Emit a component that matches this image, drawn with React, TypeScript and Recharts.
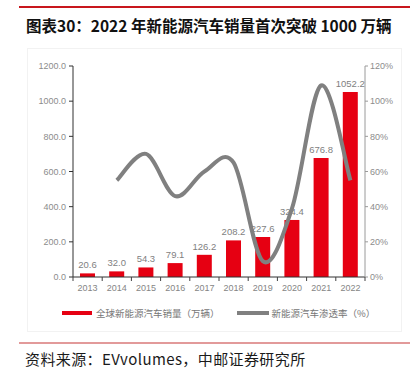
import React from 'react';
import { ComposedChart, Bar, Line, XAxis, YAxis, LabelList } from 'recharts';

const years = ['2013', '2014', '2015', '2016', '2017', '2018', '2019', '2020', '2021', '2022'];
const sales = [20.6, 32.0, 54.3, 79.1, 126.2, 208.2, 227.6, 324.4, 676.8, 1052.2];
const penetration: (number | null)[] = [null, 55, 70, 46, 60, 65, 9, 39, 109, 55];
const leftTicks = [0, 200, 400, 600, 800, 1000, 1200];
const rightTicks = [0, 20, 40, 60, 80, 100, 120];

const data = years.map((y, i) => ({ year: y, sales: sales[i], rate: penetration[i] }));

const W = 410;
const H = 371;
const PLOT_LEFT = 73;
const PLOT_RIGHT = 365;
const BAND = (PLOT_RIGHT - PLOT_LEFT) / years.length;

const FONT = '"Liberation Sans", Arial, "Noto Sans CJK SC", sans-serif';
const CJK = '"Noto Sans CJK SC", "Liberation Sans", sans-serif';

// Excel-like smooth line (Catmull-Rom through points)
function smoothCurve(context: any) {
  let pts: [number, number][] = [];
  return {
    areaStart() {},
    areaEnd() {},
    lineStart() {
      pts = [];
    },
    point(x: number, y: number) {
      pts.push([+x, +y]);
    },
    lineEnd() {
      const n = pts.length;
      if (!n) return;
      context.moveTo(pts[0][0], pts[0][1]);
      if (n === 1) return;
      const t = 1 / 6;
      for (let i = 0; i < n - 1; i++) {
        const p0 = pts[i - 1] || pts[i];
        const p1 = pts[i];
        const p2 = pts[i + 1];
        const p3 = pts[i + 2] || p2;
        context.bezierCurveTo(
          p1[0] + (p2[0] - p0[0]) * t,
          p1[1] + (p2[1] - p0[1]) * t,
          p2[0] - (p3[0] - p1[0]) * t,
          p2[1] - (p3[1] - p1[1]) * t,
          p2[0],
          p2[1]
        );
      }
    },
  };
}

const XTick = (props: any) => {
  const { x, y, payload, index, visibleTicksCount } = props;
  const isLast = index === (visibleTicksCount ?? years.length) - 1;
  return (
    <g>
      <line x1={x - BAND / 2} x2={x - BAND / 2} y1={y} y2={y + 4} stroke="#404040" strokeWidth={1} />
      {isLast && (
        <line x1={x + BAND / 2} x2={x + BAND / 2} y1={y} y2={y + 4} stroke="#404040" strokeWidth={1} />
      )}
      <text x={x} y={y + 14} textAnchor="middle" fill="#858585" fontSize={9} fontFamily={FONT}>
        {payload.value}
      </text>
    </g>
  );
};

export default function App() {
  return (
    <div
      style={{
        position: 'fixed',
        left: 0,
        top: 0,
        width: W,
        height: H,
        background: '#fff',
        overflow: 'hidden',
      }}
    >
      <div style={{ position: 'absolute', left: 19, top: 6, width: W - 19, height: 2, background: '#C8161D' }} />
      <div
        style={{
          position: 'absolute',
          left: 26,
          top: 15,
          fontSize: 15.5,
          fontWeight: 'bold',
          fontFamily: CJK,
          color: '#111',
          whiteSpace: 'nowrap',
          lineHeight: '20px',
        }}
      >
        图表30：2022 年新能源汽车销量首次突破 1000 万辆
      </div>
      <div
        style={{
          position: 'absolute',
          left: 27,
          top: 48,
          width: 373,
          height: 282,
          border: '1px solid #f2f2f2',
        }}
      />
      <div style={{ position: 'absolute', left: 0, top: 0 }}>
        <ComposedChart
          width={W}
          height={H}
          data={data}
          margin={{ top: 66, right: 5, left: 13, bottom: 74 }}
        >
          <XAxis
            dataKey="year"
            xAxisId="x"
            tick={<XTick />}
            tickLine={false}
            tickSize={0}
            tickMargin={0}
            height={20}
            axisLine={{ stroke: '#303030', strokeWidth: 1 }}
            interval={0}
          />
          <YAxis
            yAxisId="left"
            orientation="left"
            width={60}
            domain={[0, 1200]}
            ticks={leftTicks}
            tickFormatter={(v: number) => v.toFixed(1)}
            tick={{ fill: '#8c8c8c', fontSize: 9, fontFamily: FONT }}
            tickSize={4}
            tickMargin={3}
            axisLine={{ stroke: '#303030', strokeWidth: 1 }}
            tickLine={{ stroke: '#303030' }}
            interval={0}
          />
          <YAxis
            yAxisId="right"
            orientation="right"
            width={40}
            domain={[0, 120]}
            ticks={rightTicks}
            tickFormatter={(v: number) => `${v}%`}
            tick={{ fill: '#8c8c8c', fontSize: 9, fontFamily: FONT }}
            tickSize={3}
            tickMargin={2}
            axisLine={{ stroke: '#9a9a9a', strokeWidth: 1 }}
            tickLine={{ stroke: '#9a9a9a' }}
            interval={0}
          />
          <Bar
            dataKey="sales"
            xAxisId="x"
            yAxisId="left"
            fill="#E60012"
            barSize={15}
            isAnimationActive={false}
          >
            <LabelList
              dataKey="sales"
              position="top"
              offset={5}
              formatter={(v: any) => Number(v).toFixed(1)}
              style={{ fill: '#7f7f7f', fontSize: 9.5, fontFamily: FONT }}
            />
          </Bar>
          <Line
            dataKey="rate"
            xAxisId="x"
            yAxisId="right"
            type={smoothCurve as any}
            stroke="#808080"
            strokeWidth={4}
            dot={false}
            activeDot={false}
            connectNulls={false}
            isAnimationActive={false}
          />
        </ComposedChart>
      </div>
      {/* legend */}
      <div
        style={{
          position: 'absolute',
          left: 62,
          top: 306,
          display: 'flex',
          alignItems: 'center',
          fontFamily: CJK,
          fontSize: 9.5,
          color: '#767676',
          whiteSpace: 'nowrap',
          lineHeight: '14px',
        }}
      >
        <span style={{ display: 'inline-block', width: 30, height: 4, background: '#E60012', marginRight: 4 }} />
        <span>全球新能源汽车销量（万辆）</span>
        <span style={{ display: 'inline-block', width: 32, height: 4, background: '#808080', marginLeft: 17, marginRight: 3 }} />
        <span>新能源汽车渗透率（%）</span>
      </div>
      <div style={{ position: 'absolute', left: 19, top: 342, width: W - 19, height: 1.5, background: '#E29A9A' }} />
      <div
        style={{
          position: 'absolute',
          left: 25,
          top: 349,
          fontFamily: CJK,
          fontSize: 15,
          fontWeight: 'normal',
          letterSpacing: 0.4,
          color: '#1a1a1a',
          whiteSpace: 'nowrap',
          lineHeight: '20px',
        }}
      >
        资料来源：EVvolumes，中邮证券研究所
      </div>
    </div>
  );
}
